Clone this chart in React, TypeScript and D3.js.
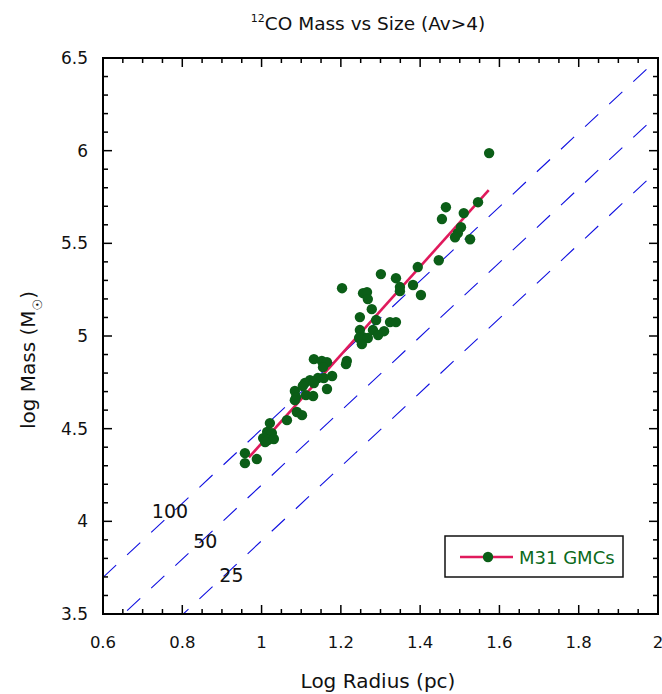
import React from "react";
import * as d3 from "d3";

const radiusLog = [
  1.574, 1.546, 1.465, 1.455, 1.51, 1.503, 1.495, 1.488, 1.526, 1.447,
  1.394, 1.382, 1.402, 1.349, 1.349, 1.301, 1.339, 1.203, 1.256, 1.266,
  1.268, 1.278, 1.248, 1.289, 1.324, 1.339, 1.248, 1.281, 1.309, 1.294,
  1.256, 1.246, 1.268, 1.253, 1.132, 1.152, 1.165, 1.215, 1.213, 1.155,
  1.178, 1.157, 1.142, 1.122, 1.109, 1.165, 1.084, 1.104, 1.112, 1.13,
  1.087, 1.084, 1.089, 1.102, 1.064, 1.021, 1.014, 1.026, 1.004, 1.016,
  1.031, 1.009, 0.958, 0.958, 0.988, 1.132,
];
const massLog = [
  5.987, 5.722, 5.695, 5.631, 5.663, 5.587, 5.555, 5.533, 5.522, 5.409,
  5.372, 5.275, 5.221, 5.264, 5.242, 5.334, 5.312, 5.258, 5.231, 5.237,
  5.199, 5.145, 5.102, 5.086, 5.075, 5.075, 5.032, 5.032, 5.026, 5.005,
  4.994, 4.989, 4.989, 4.956, 4.875, 4.865, 4.859, 4.865, 4.848, 4.832,
  4.784, 4.773, 4.773, 4.762, 4.746, 4.714, 4.703, 4.73, 4.681, 4.676,
  4.67, 4.654, 4.59, 4.573, 4.546, 4.53, 4.482, 4.476, 4.449, 4.439,
  4.444, 4.428, 4.368, 4.314, 4.336, 4.746,
];
const fitX = [0.968, 1.573];
const fitY = [4.345, 5.787];
const sigmaLevels = [100, 50, 25];
const xTicks = [0.6, 0.8, 1, 1.2, 1.4, 1.6, 1.8, 2];
const yTicks = [3.5, 4, 4.5, 5, 5.5, 6, 6.5];
const sigmaLabelPos = [
  { x: 0.769, y: 4.02 },
  { x: 0.858, y: 3.855 },
  { x: 0.924, y: 3.675 },
];

const W = 662, H = 694;
const L = 103, R = 658, T = 58, B = 614;
const FONT = "'DejaVu Sans', Verdana, sans-serif";

export default function App() {
  const x = d3.scaleLinear().domain([0.6, 2]).range([L, R]);
  const y = d3.scaleLinear().domain([3.5, 6.5]).range([B, T]);
  const xMinor = d3.range(0, 29).map((i) => 0.6 + i * 0.05);
  const yMinor = d3.range(0, 31).map((i) => 3.5 + i * 0.1);
  const isMajor = (v: number, arr: number[]) => arr.some((a) => Math.abs(a - v) < 1e-6);
  const line = d3.line<[number, number]>().x((d) => x(d[0])).y((d) => y(d[1]));
  const fitPts: [number, number][] = fitX.map((v, i) => [v, fitY[i]]);

  return (
    <svg width={W} height={H} style={{ display: "block", position: "absolute", left: 0, top: 0 }}>
      <rect width={W} height={H} fill="#fff" />
      <defs>
        <clipPath id="plotClip">
          <rect x={L} y={T} width={R - L} height={B - T} />
        </clipPath>
      </defs>
      <g clipPath="url(#plotClip)">
        {sigmaLevels.map((s) => {
          const c = Math.log10(Math.PI * s);
          const pts: [number, number][] = [
            [0.6, c + 1.2],
            [2, c + 4],
          ];
          return (
            <path key={s} d={line(pts) || ""} stroke="#1010e0" strokeWidth={1.1} fill="none" strokeDasharray="18,15" />
          );
        })}
      </g>
      {sigmaLevels.map((s, i) => (
        <text key={s} x={x(sigmaLabelPos[i].x)} y={y(sigmaLabelPos[i].y)} fontFamily={FONT} fontSize={19} textAnchor="middle" fill="#111">
          {s}
        </text>
      ))}
      <path d={line(fitPts) || ""} stroke="#e01a5c" strokeWidth={2.6} fill="none" />
      {radiusLog.map((r, i) => (
        <circle key={i} cx={x(r)} cy={y(massLog[i])} r={5.2} fill="#0b5e17" />
      ))}
      {/* frame and ticks */}
      <rect x={L} y={T} width={R - L} height={B - T} fill="none" stroke="#000" strokeWidth={2} />
      {xMinor.map((v, i) => {
        const len = isMajor(v, xTicks) ? 9 : 5;
        const px = x(v);
        return (
          <g key={"xt" + i}>
            <line x1={px} x2={px} y1={B} y2={B - len} stroke="#000" strokeWidth={1.5} />
            <line x1={px} x2={px} y1={T} y2={T + len} stroke="#000" strokeWidth={1.5} />
          </g>
        );
      })}
      {yMinor.map((v, i) => {
        const len = isMajor(v, yTicks) ? 9 : 5;
        const py = y(v);
        return (
          <g key={"yt" + i}>
            <line x1={L} x2={L + len} y1={py} y2={py} stroke="#000" strokeWidth={1.5} />
            <line x1={R} x2={R - len} y1={py} y2={py} stroke="#000" strokeWidth={1.5} />
          </g>
        );
      })}
      {xTicks.map((v) => (
        <text key={"xl" + v} x={x(v)} y={648} fontFamily={FONT} fontSize={16.5} textAnchor="middle" fill="#111">
          {String(v)}
        </text>
      ))}
      {yTicks.map((v) => (
        <text key={"yl" + v} x={88} y={y(v) + 6} fontFamily={FONT} fontSize={17} textAnchor="end" fill="#111">
          {String(v)}
        </text>
      ))}
      {/* titles */}
      <text x={368} y={30} fontFamily={FONT} fontSize={18.5} textAnchor="middle" fill="#111">
        <tspan fontSize={11} dy={-8}>12</tspan>
        <tspan dy={8}>CO Mass vs Size (Av&gt;4)</tspan>
      </text>
      <text x={378} y={688} fontFamily={FONT} fontSize={20} textAnchor="middle" fill="#111">
        Log Radius (pc)
      </text>
      <text transform="translate(35,360) rotate(-90)" fontFamily={FONT} fontSize={20} textAnchor="middle" fill="#111">
        log Mass (M<tspan fontSize={13} dy={7}>☉</tspan>
        <tspan dy={-7}>)</tspan>
      </text>
      {/* legend */}
      <rect x={445} y={536} width={178} height={41} fill="#fff" stroke="#111" strokeWidth={1.5} />
      <line x1={460} x2={513} y1={557} y2={557} stroke="#e01a5c" strokeWidth={2.6} />
      <circle cx={488} cy={557} r={5.2} fill="#0b5e17" />
      <text x={519} y={563.5} fontFamily={FONT} fontSize={18} fill="#0b6a1b">
        M31 GMCs
      </text>
    </svg>
  );
}
